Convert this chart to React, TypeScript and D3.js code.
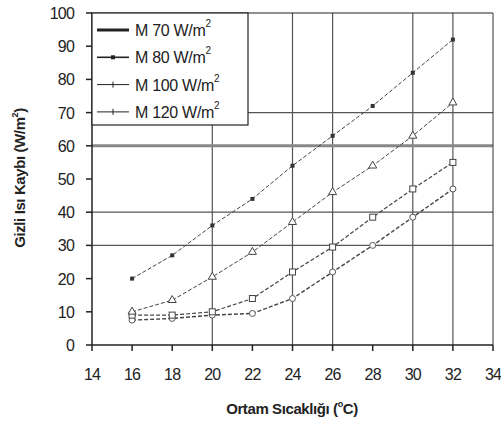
import React from 'react';
import * as d3 from 'd3';

// Ambient temperature (°C)
const TEMPS = [16, 18, 20, 22, 24, 26, 28, 30, 32];
// Latent heat loss (W/m2) per metabolic rate
const M70 = [7.5, 8, 9, 9.5, 14, 22, 30, 38.5, 47];
const M80 = [9, 9, 10, 14, 22, 29.5, 38.5, 47, 55];
const M100 = [10, 13.5, 20.5, 28, 37, 46, 54, 63, 73];
const M120 = [20, 27, 36, 44, 54, 63, 72, 82, 92];

const SERIES = [
  { name: 'M  70 W/m', values: M70, marker: 'circle', width: 1.4 },
  { name: 'M  80 W/m', values: M80, marker: 'square', width: 1.2 },
  { name: 'M  100 W/m', values: M100, marker: 'triangle', width: 1 },
  { name: 'M  120 W/m', values: M120, marker: 'dot', width: 1 },
];

const X_TICKS = [14, 16, 18, 20, 22, 24, 26, 28, 30, 32, 34];
const Y_TICKS = [0, 10, 20, 30, 40, 50, 60, 70, 80, 90, 100];
const X_GRID = [20, 24, 26, 30, 32];
const Y_GRID = [30, 40, 70];

const W = 501;
const H = 426;
const margin = { top: 13, right: 8, bottom: 81, left: 92 };

const App: React.FC = () => {
  const x = d3.scaleLinear().domain([14, 34]).range([margin.left, W - margin.right]);
  const y = d3.scaleLinear().domain([0, 100]).range([H - margin.bottom, margin.top]);
  const font = 'Arial, "Liberation Sans", sans-serif';

  const line = d3.line<number>()
    .x((_, i) => x(TEMPS[i]))
    .y(d => y(d));

  const drawMarker = (kind: string, cx: number, cy: number, key: string) => {
    if (kind === 'circle') return <circle key={key} cx={cx} cy={cy} r={3} fill="#fff" stroke="#555" strokeWidth={1} />;
    if (kind === 'square') return <rect key={key} x={cx - 3} y={cy - 3} width={6} height={6} fill="#fff" stroke="#444" strokeWidth={1} />;
    if (kind === 'triangle') return <path key={key} d={d3.symbol(d3.symbolTriangle, 28)() || ''} transform={`translate(${cx},${cy})`} fill="#fff" stroke="#444" strokeWidth={1} />;
    return <rect key={key} x={cx - 2} y={cy - 2} width={4} height={4} fill="#333" />;
  };

  return (
    <svg width={W} height={H} style={{ position: 'absolute', left: 0, top: 0, background: '#fff' }}>
      {/* grid */}
      {X_GRID.map(v => (
        <line key={'gx' + v} x1={x(v)} x2={x(v)} y1={y(0)} y2={y(100)} stroke="#555" strokeWidth={1.2} />
      ))}
      {Y_GRID.map(v => (
        <line key={'gy' + v} x1={x(14)} x2={x(34)} y1={y(v)} y2={y(v)} stroke="#555" strokeWidth={1.2} />
      ))}
      <line x1={x(14)} x2={x(34)} y1={y(60)} y2={y(60)} stroke="#888" strokeWidth={3} />
      {/* frame */}
      <line x1={x(14)} x2={x(34)} y1={y(100)} y2={y(100)} stroke="#222" strokeWidth={1.2} />
      <line x1={x(34)} x2={x(34)} y1={y(100)} y2={y(0)} stroke="#333" strokeWidth={1} />
      <line x1={x(14)} x2={x(14)} y1={y(100)} y2={y(0)} stroke="#222" strokeWidth={1.5} />
      <line x1={x(14)} x2={x(34)} y1={y(0)} y2={y(0)} stroke="#222" strokeWidth={1.5} />

      {/* ticks */}
      {Y_TICKS.map(v => (
        <g key={'yt' + v}>
          <line x1={x(14) - 6} x2={x(14)} y1={y(v)} y2={y(v)} stroke="#222" strokeWidth={1.5} />
          <text x={74} y={y(v) + 6} textAnchor="end" fontFamily={font} fontSize={16} fill="#222" letterSpacing={-0.8}>{v}</text>
        </g>
      ))}
      {X_TICKS.map(v => (
        <g key={'xt' + v}>
          <line x1={x(v)} x2={x(v)} y1={y(0)} y2={y(0) + 6} stroke="#222" strokeWidth={1.5} />
          <text x={x(v)} y={y(0) + 35} textAnchor="middle" fontFamily={font} fontSize={16} fill="#222" letterSpacing={-0.8}>{v}</text>
        </g>
      ))}

      {/* series */}
      {SERIES.map((s, si) => (
        <g key={s.name}>
          <path d={line(s.values) || ''} fill="none" stroke="#444" strokeWidth={s.width} strokeDasharray="4,2" />
          {s.values.map((v, i) => drawMarker(s.marker, x(TEMPS[i]), y(v), `${si}-${i}`))}
        </g>
      ))}

      {/* legend */}
      <rect x={x(14)} y={y(100)} width={156} height={112} fill="#fff" stroke="#222" strokeWidth={1.2} />
      {SERIES.map((s, i) => {
        const ly = 30 + i * 27.3;
        return (
          <g key={'lg' + i}>
            <line x1={97} x2={129} y1={ly} y2={ly} stroke="#222" strokeWidth={i === 0 ? 3 : i === 1 ? 1.6 : 1} />
            {i === 1 && <rect x={111} y={ly - 2} width={4} height={4} fill="#222" />}
            {i >= 2 && <line x1={113} x2={113} y1={ly - 3} y2={ly + 3} stroke="#222" strokeWidth={1} />}
            <text x={135} y={ly + 6} fontFamily={font} fontSize={16} fill="#222" letterSpacing={-0.3}>
              {s.name}
              <tspan fontSize={10} dy={-9}>2</tspan>
            </text>
          </g>
        );
      })}

      {/* axis titles */}
      <text x={292} y={414} textAnchor="middle" fontFamily={font} fontSize={15} fontWeight="bold" fill="#222" letterSpacing={-0.4}>
        Ortam Sıcaklığı (<tspan fontSize={9} dy={-7}>o</tspan><tspan dy={7}>C)</tspan>
      </text>
      <text transform={`translate(25,178) rotate(-90)`} textAnchor="middle" fontFamily={font} fontSize={15} fontWeight="bold" fill="#222" letterSpacing={-0.4}>
        Gizli Isı Kaybı (W/m<tspan fontSize={9} dy={-7}>2</tspan><tspan dy={7}>)</tspan>
      </text>
    </svg>
  );
};

export default App;
